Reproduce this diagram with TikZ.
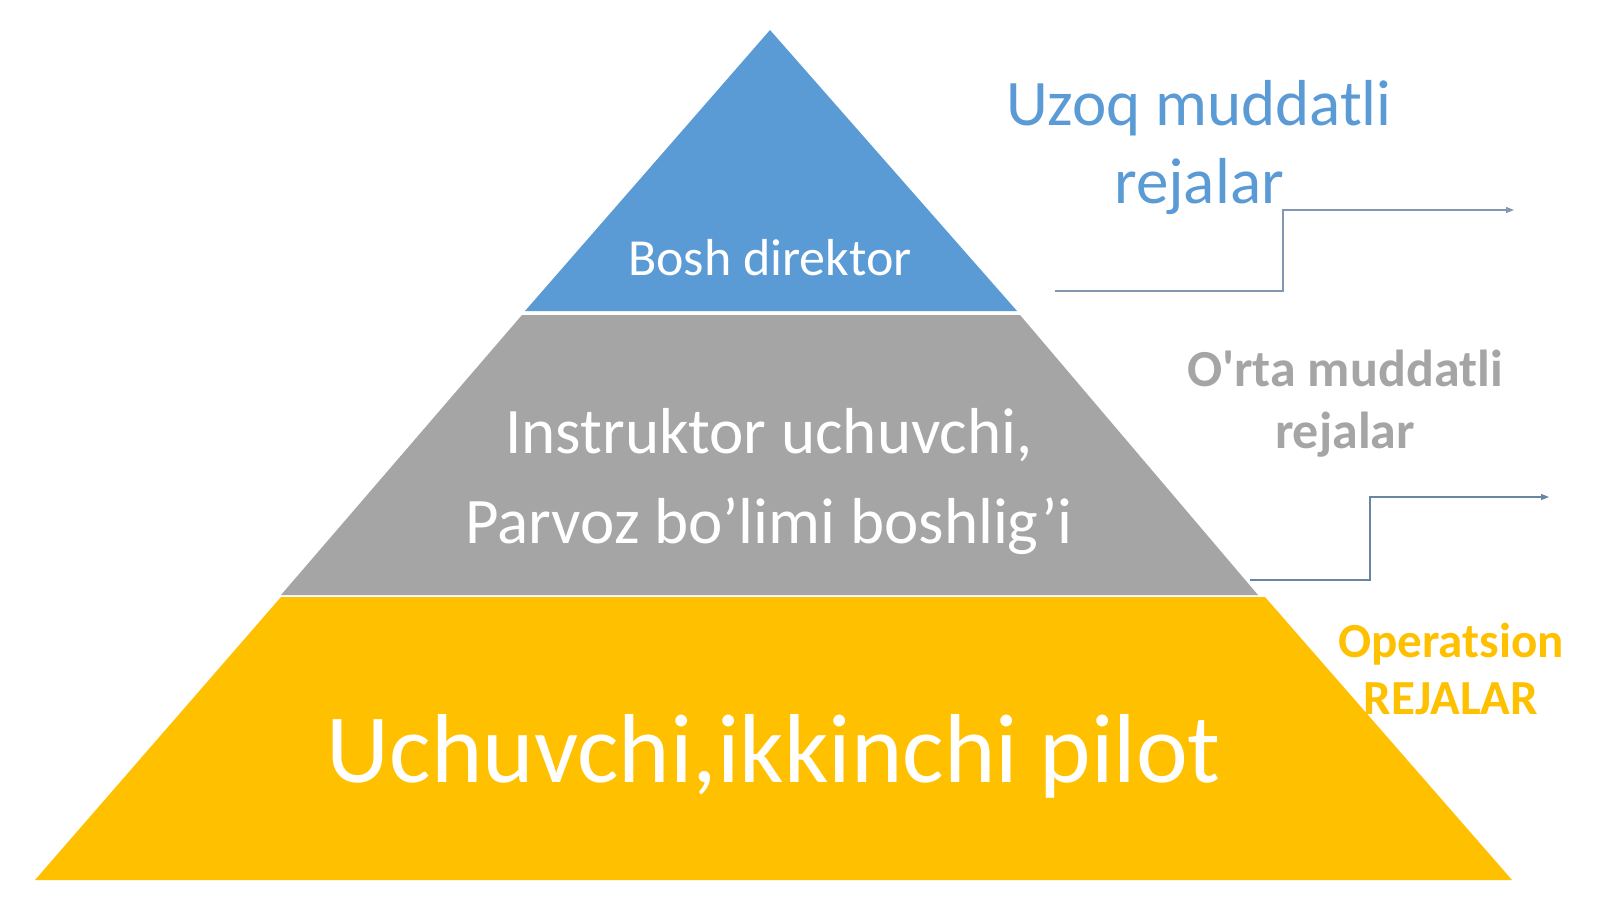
\documentclass[tikz,border=0pt]{standalone}
\usepackage{fontspec}
\setmainfont{Carlito}
\usetikzlibrary{arrows.meta}
\definecolor{pblue}{HTML}{5B9BD5}
\definecolor{pgray}{HTML}{A5A5A5}
\definecolor{pyellow}{HTML}{FFC000}
\definecolor{lblue}{HTML}{5B9BD5}
\definecolor{tgray}{HTML}{A5A5A5}
\definecolor{torange}{HTML}{FFC000}
\definecolor{conn}{HTML}{8496B0}
\definecolor{conn2}{HTML}{6A84A3}
\begin{document}
\begin{tikzpicture}[x=1pt,y=-1pt,
  wtext/.style={text=white,align=center,inner sep=0pt},
  conline/.style={line width=1.3pt,-{Triangle[length=8pt,width=6pt]}}]
\useasboundingbox (0,0) rectangle (1600,899);
\fill[white] (0,0) rectangle (1600,899);
% bands
\fill[pblue] (770,30) -- (1017,311) -- (525,311) -- cycle;
\fill[pgray] (522,315) -- (1020,315) -- (1258,595) -- (281,595) -- cycle;
\fill[pyellow] (281,597) -- (1265,597) -- (1512,880) -- (35,880) -- cycle;
% texts
\node[wtext,font=\fontsize{52}{60}\selectfont] (ceo) at (770,258) {Bosh direktor};
\node[wtext,font=\fontsize{65}{90}\selectfont] (mid) at (769,482) {Instruktor uchuvchi,\\Parvoz bo’limi boshlig’i};
\node[wtext,font=\fontsize{98}{110}\selectfont] (low) at (774,756) {Uchuvchi,ikkinchi pilot};
\node[align=center,inner sep=0pt,text=lblue,font=\fontsize{65}{78}\selectfont] (long) at (1199,148) {Uzoq muddatli\\rejalar};
\node[align=center,inner sep=0pt,text=tgray,font=\fontsize{52}{62}\selectfont\bfseries] (medium) at (1345,404) {O\textquotesingle rta muddatli\\rejalar};
\node[align=center,inner sep=0pt,text=torange,font=\fontsize{49}{57}\selectfont\bfseries] (oper) at (1451,669) {Operatsion\\REJALAR};
% connectors
\coordinate (a1) at (1055,291);
\coordinate (a2) at (1514,210);
\draw[conline,draw=conn] (a1) -- (1283,291) |- (a2);
\coordinate (b1) at (1250,580);
\coordinate (b2) at (1549,497);
\draw[conline,draw=conn2] (b1) -- (1370,580) |- (b2);
\end{tikzpicture}
\end{document}
